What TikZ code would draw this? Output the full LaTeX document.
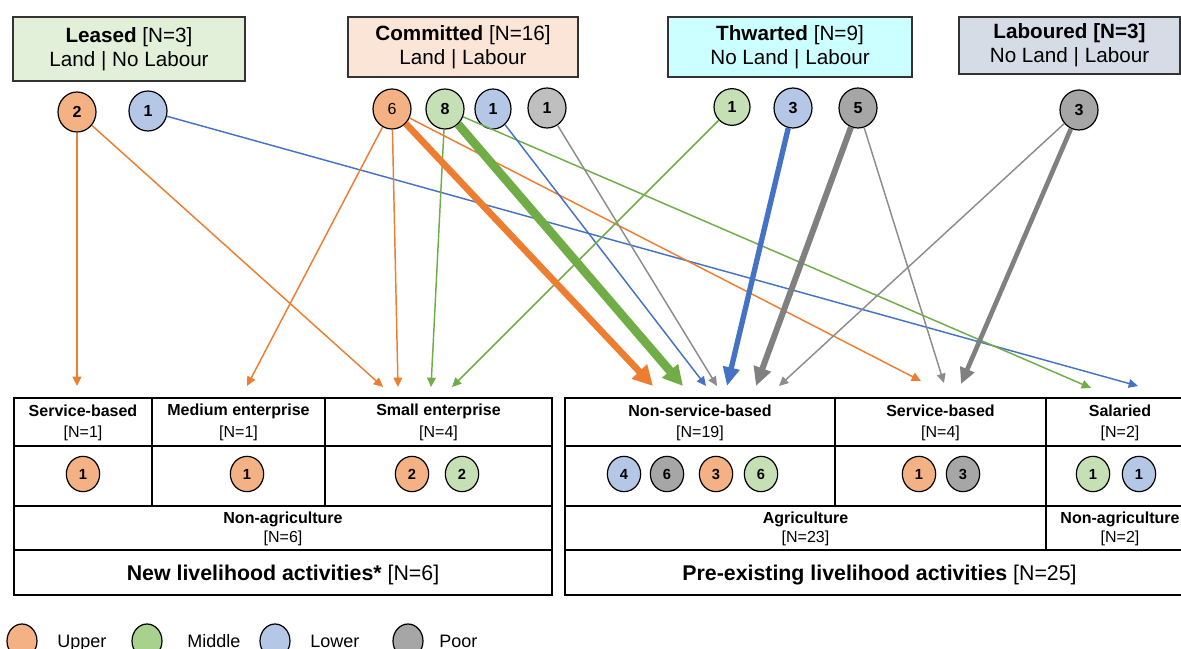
\documentclass[tikz,border=0pt]{standalone}
\usepackage{fontspec}
\setmainfont{Liberation Sans}
\usetikzlibrary{arrows.meta,shapes.geometric}

% fills of the group boxes
\definecolor{leasedF}{HTML}{E2F0D9}
\definecolor{committedF}{HTML}{FBE5D6}
\definecolor{thwartedF}{HTML}{CCFFFF}
\definecolor{labouredF}{HTML}{D6DCE5}
% wealth-class fills
\definecolor{upF}{HTML}{F4B183}
\definecolor{midF}{HTML}{C5E0B4}
\definecolor{midL}{HTML}{A9D18E}
\definecolor{lowF}{HTML}{B4C7E7}
\definecolor{poorF}{HTML}{A6A6A6}
\definecolor{poorLt}{HTML}{BFBFBF}
% flow colours
\definecolor{upL}{HTML}{ED7D31}
\definecolor{midLn}{HTML}{70AD47}
\definecolor{lowL}{HTML}{4472C4}
\definecolor{poorL}{HTML}{8C8C8C}
\definecolor{poorH}{HTML}{808080}

\begin{document}
\begin{tikzpicture}[x=0.75pt,y=-0.75pt,
  topbox/.style={draw=black!80, line width=0.9pt, align=center, inner sep=0pt,
    font=\fontsize{15.5}{18}\selectfont},
  dot/.style={ellipse, draw=black, line width=0.9pt, inner sep=0pt,
    minimum width=28.5pt, minimum height=30pt, font=\bfseries\fontsize{12}{12}\selectfont},
  sdot/.style={dot, minimum width=25pt, minimum height=26.5pt,
    font=\bfseries\fontsize{11}{11}\selectfont},
  ldot/.style={ellipse, draw=black, line width=0.9pt, inner sep=0pt,
    minimum width=22.5pt, minimum height=25.5pt},
  hdr/.style={font=\bfseries\fontsize{12}{14}\selectfont, inner sep=0pt},
  sub/.style={font=\fontsize{12}{14}\selectfont, inner sep=0pt},
  ttl/.style={font=\fontsize{16}{18}\selectfont, inner sep=0pt},
  lgd/.style={font=\fontsize{13.5}{15}\selectfont, inner sep=0pt, anchor=base west},
  tline/.style={line width=1pt},
  tframe/.style={line width=1.6pt},
  arw/.style={line width=1.1pt, -{Triangle[length=7pt,width=6.5pt]}},
  arwbig/.style={-{Triangle[length=15pt,width=15pt]}},
]
\useasboundingbox (0,0) rectangle (1181,649);

% ---------- group boxes ----------
\node[topbox, fill=leasedF, minimum width=174pt, minimum height=48pt] (leased) at (129,49)
  {\textbf{Leased} [N=3]\\Land | No Labour};
\node[topbox, fill=committedF, minimum width=172.5pt, minimum height=45pt] (committed) at (463,47)
  {\textbf{Committed} [N=16]\\Land | Labour};
\node[topbox, fill=thwartedF, minimum width=183pt, minimum height=45pt] (thwarted) at (790,47)
  {\textbf{Thwarted} [N=9]\\No Land | Labour};
\node[topbox, fill=labouredF, minimum width=165.75pt, minimum height=42.75pt] (laboured) at (1069.5,45.5)
  {\textbf{Laboured [N=3]}\\No Land | Labour};

% ---------- group counts ----------
\node[dot, fill=upF] (l2) at (77,112) {2};
\node[dot, fill=lowF] (l1) at (148,111) {1};
\node[dot, fill=upF, font=\fontsize{12}{12}\selectfont] (c6) at (392,109) {6};
\node[dot, fill=midF] (c8) at (445,109) {8};
\node[dot, fill=lowF, minimum width=27pt] (cb1) at (493,109) {1};
\node[dot, fill=poorLt] (cg1) at (547,108) {1};
\node[dot, fill=midF, minimum width=27pt, minimum height=27.5pt] (t1) at (732,107) {1};
\node[dot, fill=lowF] (t3) at (793,108) {3};
\node[dot, fill=poorF] (t5) at (858,108) {5};
\node[dot, fill=poorF] (lb3) at (1079,110) {3};

% ---------- arrow targets ----------
\coordinate (aSrv)  at (77,386);
\coordinate (aMed)  at (247,386);
\coordinate (aSm1)  at (383,387);
\coordinate (aSm2)  at (398,387);
\coordinate (aSm3)  at (431,387);
\coordinate (aSm4)  at (452,387);
\coordinate (aNs1)  at (653,386);
\coordinate (aNs2)  at (683,386);
\coordinate (aNs3)  at (706,386);
\coordinate (aNs4)  at (717,386);
\coordinate (aNs5)  at (727,386);
\coordinate (aNs6)  at (756,386);
\coordinate (aNs7)  at (779,386);
\coordinate (aSv1)  at (921,381);
\coordinate (aSv2)  at (944,383);
\coordinate (aSv3)  at (961,384);
\coordinate (aSal1) at (1091,388);
\coordinate (aSal2) at (1138,386);

% ---------- flows ----------
\draw[arw, upL] (l2) -- (aSrv);
\draw[arw, upL] (l2) -- (aSm1);
\draw[arw, lowL] (l1) -- (aSal2);
\draw[arw, upL] (c6) -- (aMed);
\draw[arw, upL] (c6) -- (aSm2);
\draw[arw, upL] (c6) -- (aSv1);
\draw[arw, midLn] (c8) -- (aSm3);
\draw[arw, midLn] (c8) -- (aSal1);
\draw[arw, lowL] (cb1) -- (aNs3);
\draw[arw, poorL] (cg1) -- (aNs4);
\draw[arw, midLn] (t1) -- (aSm4);
\draw[arw, poorL] (t5) -- (aSv2);
\draw[arw, poorL] (lb3) -- (aNs7);
\draw[arwbig, upL, line width=5pt] (c6) -- (aNs1);
\draw[arwbig, midLn, line width=6.5pt] (c8) -- (aNs2);
\draw[arwbig, lowL, line width=4pt, -{Triangle[length=14pt,width=12pt]}] (t3) -- (aNs5);
\draw[arwbig, poorH, line width=4.5pt, -{Triangle[length=14pt,width=13pt]}] (t5) -- (aNs6);
\draw[arwbig, poorH, line width=3.5pt, -{Triangle[length=12pt,width=11pt]}] (lb3) -- (aSv3);

% ---------- new livelihood activities ----------
\draw[tline] (14,446) -- (552,446);
\draw[tline] (152,398) -- (152,506);
\draw[tline] (325,398) -- (325,506);
\draw[tframe] (14,506) -- (552,506);
\draw[tframe] (14,550) -- (552,550);
\draw[tframe] (14,398) rectangle (552,595);

\node[hdr] (nSrvH) at (83,411) {Service-based};
\node[sub] (nSrvN) at (83,433) {[N=1]};
\node[hdr] (nMedH) at (238.5,411) {Medium enterprise};
\node[sub] (nMedN) at (238.5,433) {[N=1]};
\node[hdr] (nSmH) at (438.5,411) {Small enterprise};
\node[sub] (nSmN) at (438.5,433) {[N=4]};
\node[sdot, fill=upF] (n1) at (83,474) {1};
\node[sdot, fill=upF] (n2) at (247,474) {1};
\node[sdot, fill=upF] (n3) at (412,474) {2};
\node[sdot, fill=midF] (n4) at (462,474) {2};
\node[hdr] (nNaH) at (283,519) {Non-agriculture};
\node[sub] (nNaN) at (283,538) {[N=6]};
\node[ttl] (nTitle) at (283,575) {\textbf{New livelihood activities*} [N=6]};

% ---------- pre-existing livelihood activities ----------
\draw[tline] (565,446) -- (1194,446);
\draw[tline] (835,398) -- (835,506);
\draw[tline] (1046,398) -- (1046,550);
\draw[tframe] (565,506) -- (1194,506);
\draw[tframe] (565,550) -- (1194,550);
\draw[tframe] (565,398) rectangle (1194,595);

\node[hdr] (pNsH) at (700,411) {Non-service-based};
\node[sub] (pNsN) at (700,433) {[N=19]};
\node[hdr] (pSvH) at (940.5,411) {Service-based};
\node[sub] (pSvN) at (940.5,433) {[N=4]};
\node[hdr] (pSaH) at (1120,411) {Salaried};
\node[sub] (pSaN) at (1120,433) {[N=2]};
\node[sdot, fill=lowF] (p1) at (624,474) {4};
\node[sdot, fill=poorF] (p2) at (667,474) {6};
\node[sdot, fill=upF] (p3) at (716,474) {3};
\node[sdot, fill=midF] (p4) at (761,474) {6};
\node[sdot, fill=upF] (p5) at (919,474) {1};
\node[sdot, fill=poorF] (p6) at (963,474) {3};
\node[sdot, fill=midF] (p7) at (1093,474) {1};
\node[sdot, fill=lowF] (p8) at (1139,474) {1};
\node[hdr] (pAgH) at (805.5,519) {Agriculture};
\node[sub] (pAgN) at (805.5,538) {[N=23]};
\node[hdr] (pNaH) at (1120,519) {Non-agriculture};
\node[sub] (pNaN) at (1120,538) {[N=2]};
\node[ttl] (pTitle) at (879.5,575) {\textbf{Pre-existing livelihood activities} [N=25]};

% ---------- legend ----------
\node[ldot, fill=upF] (kUp) at (22,641) {};
\node[lgd] (kUpT) at (57,647) {Upper};
\node[ldot, fill=midL] (kMid) at (147,641) {};
\node[lgd] (kMidT) at (187,647) {Middle};
\node[ldot, fill=lowF] (kLow) at (275,641) {};
\node[lgd] (kLowT) at (310,647) {Lower};
\node[ldot, fill=poorF] (kPoor) at (408,641) {};
\node[lgd] (kPoorT) at (439,647) {Poor};
\end{tikzpicture}
\end{document}
